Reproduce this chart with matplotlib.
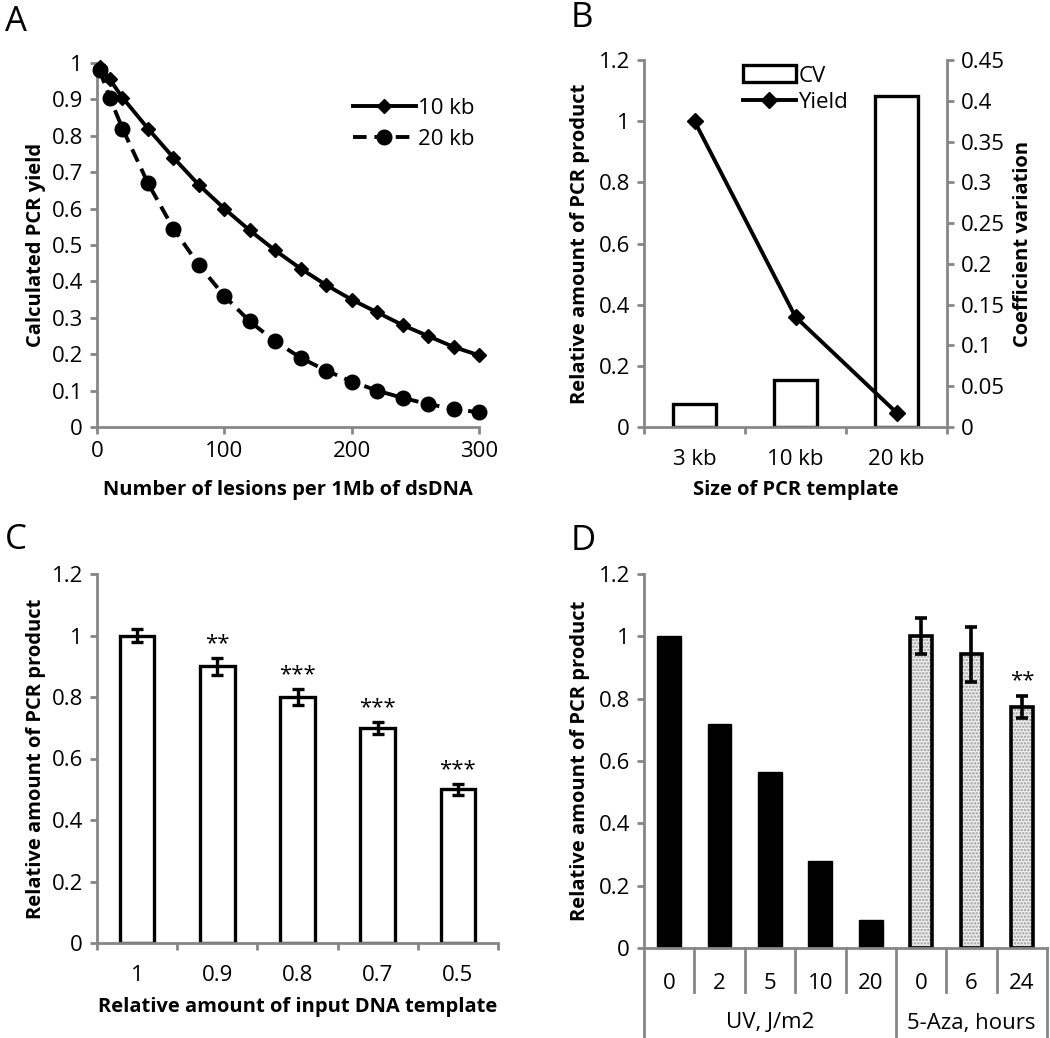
import numpy as np
import matplotlib
matplotlib.use("Agg")
from matplotlib import pyplot as plt
from matplotlib import transforms

plt.rcParams['font.family'] = ['Open Sans', 'DejaVu Sans']

# Panel A data
lesions = [2, 10, 20, 40, 60, 80, 100, 120, 140, 160, 180, 200, 220, 240, 260, 280, 300]
yield_10kb = [0.99, 0.955, 0.905, 0.82, 0.74, 0.665, 0.60, 0.54, 0.485, 0.435,
              0.39, 0.35, 0.315, 0.28, 0.25, 0.22, 0.197]
yield_20kb = [0.98, 0.905, 0.82, 0.67, 0.545, 0.445, 0.36, 0.29, 0.235, 0.19,
              0.155, 0.125, 0.10, 0.08, 0.063, 0.05, 0.04]

# Panel B data
templates = ['3 kb', '10 kb', '20 kb']
cv_values = [0.028, 0.058, 0.406]
rel_yield = [1.0, 0.36, 0.047]

# Panel C data
input_amount = ['1', '0.9', '0.8', '0.7', '0.5']
product_c = [1.0, 0.9, 0.8, 0.7, 0.5]
err_c = [0.021, 0.028, 0.025, 0.02, 0.018]
stars_c = ['', '**', '***', '***', '***']

# Panel D data
uv_doses = ['0', '2', '5', '10', '20']
uv_product = [1.0, 0.72, 0.564, 0.28, 0.089]
aza_hours = ['0', '6', '24']
aza_product = [1.0, 0.942, 0.773]
aza_err = [0.058, 0.088, 0.035]
aza_stars = ['', '', '**']
groups = ['UV, J/m2', '5-Aza, hours']

W, H = 1050, 1038
GRAY = '#868686'
TICK = 16
LAB = 14.5


def box(l, t, r, b):
    return [l / W, 1 - b / H, (r - l) / W, (b - t) / H]


def style(ax):
    for s in ['top', 'right']:
        ax.spines[s].set_visible(False)
    for s in ['left', 'bottom']:
        ax.spines[s].set_color(GRAY)
        ax.spines[s].set_linewidth(2)
    ax.tick_params(axis='both', colors=GRAY, width=2, length=5, labelsize=TICK,
                   labelcolor='black', pad=5)


fig = plt.figure(figsize=(W / 100, H / 100), dpi=100)

# ---- A ----
axA = fig.add_axes(box(97, 63, 479, 427))
style(axA)
axA.plot(lesions, yield_10kb, '-', color='black', lw=2.8, marker='D', ms=7,
         label='10 kb', clip_on=False, zorder=3)
axA.plot(lesions, yield_20kb, '--', color='black', lw=2.8, marker='o', ms=10.5,
         dashes=(3.5, 2), label='20 kb', clip_on=False, zorder=3)
axA.set_xlim(0, 300)
axA.set_ylim(0, 1)
axA.set_xticks([0, 100, 200, 300])
axA.set_yticks(np.arange(0, 1.01, 0.1))
axA.set_yticklabels(['0', '0.1', '0.2', '0.3', '0.4', '0.5', '0.6', '0.7', '0.8', '0.9', '1'])
axA.set_xlabel('Number of lesions per 1Mb of dsDNA', fontsize=LAB, fontweight='bold', labelpad=13)
axA.set_ylabel('Calculated PCR yield', fontsize=LAB, fontweight='bold', labelpad=4)
axA.legend(loc='upper right', bbox_to_anchor=(1.04, 0.96), frameon=False, fontsize=TICK,
           handlelength=2.8, handletextpad=0.1, labelspacing=0.45)

# ---- B ----
axB = fig.add_axes(box(644, 60, 947, 427))
style(axB)
axB2 = axB.twinx()
for s in ['top', 'left', 'bottom']:
    axB2.spines[s].set_visible(False)
axB2.spines['right'].set_color(GRAY)
axB2.spines['right'].set_linewidth(2)
axB2.tick_params(axis='y', colors=GRAY, width=2, length=5, labelsize=TICK,
                 labelcolor='black', pad=5)
xb = np.arange(len(templates))
axB2.bar(xb, cv_values, width=0.42, facecolor='white', edgecolor='black', lw=2.4,
         label='CV', zorder=2)
axB2.set_ylim(0, 0.45)
axB2.set_yticks(np.arange(0, 0.451, 0.05))
axB2.set_yticklabels(['0', '0.05', '0.1', '0.15', '0.2', '0.25', '0.3', '0.35', '0.4', '0.45'])
axB2.set_ylabel('Coefficient variation', fontsize=LAB, fontweight='bold', labelpad=6)
axB.set_zorder(axB2.get_zorder() + 1)
axB.patch.set_visible(False)
axB.plot(xb, rel_yield, '-', color='black', lw=2.8, marker='D', ms=8, label='Yield',
         clip_on=False)
axB.set_xlim(-0.5, 2.5)
axB2.set_xlim(-0.5, 2.5)
axB.set_ylim(0, 1.2)
axB.set_yticks(np.arange(0, 1.21, 0.2))
axB.set_yticklabels(['0', '0.2', '0.4', '0.6', '0.8', '1', '1.2'])
axB.set_xticks([-0.5, 0.5, 1.5, 2.5])
axB.set_xticklabels([])
axB.set_xticks(xb, minor=True)
axB.set_xticklabels(templates, minor=True)
axB.tick_params(axis='x', which='minor', length=0, labelsize=TICK, pad=16)
axB.set_xlabel('Size of PCR template', fontsize=LAB, fontweight='bold')
axB.xaxis.set_label_coords(0.5, -(480 - 427) / (427 - 60))
axB.set_ylabel('Relative amount of PCR product', fontsize=LAB, fontweight='bold', labelpad=6)
h1, l1 = axB2.get_legend_handles_labels()
h2, l2 = axB.get_legend_handles_labels()
axB.legend(h1 + h2, l1 + l2, loc='upper left', bbox_to_anchor=(0.26, 1.04), frameon=False,
           fontsize=TICK, handlelength=2.4, handleheight=0.8, handletextpad=0.1,
           labelspacing=0.25)

# ---- C ----
axC = fig.add_axes(box(97, 574, 498, 943))
style(axC)
xc = np.arange(len(input_amount))
axC.bar(xc, product_c, width=0.43, facecolor='white', edgecolor='black', lw=2.4)
axC.errorbar(xc, product_c, yerr=err_c, fmt='none', ecolor='black', elinewidth=2.4,
             capsize=4.5, capthick=2.4)
for x, m, e, st in zip(xc, product_c, err_c, stars_c):
    if st:
        axC.text(x, m + e + 0.012, st, ha='center', va='bottom', fontsize=16)
axC.set_xlim(-0.5, 4.5)
axC.set_ylim(0, 1.2)
axC.set_yticks(np.arange(0, 1.21, 0.2))
axC.set_yticklabels(['0', '0.2', '0.4', '0.6', '0.8', '1', '1.2'])
axC.set_xticks(np.arange(-0.5, 4.6, 1))
axC.set_xticklabels([])
axC.set_xticks(xc, minor=True)
axC.set_xticklabels(input_amount, minor=True)
axC.tick_params(axis='x', which='minor', length=0, labelsize=TICK, pad=16)
axC.set_xlabel('Relative amount of input DNA template', fontsize=LAB, fontweight='bold')
axC.xaxis.set_label_coords(0.5, -(997 - 943) / (943 - 574))
axC.set_ylabel('Relative amount of PCR product', fontsize=LAB, fontweight='bold', labelpad=4)

# ---- D ----
axD = fig.add_axes(box(644, 574, 1047, 948))
style(axD)
n_uv = len(uv_doses)
x_uv = np.arange(n_uv)
x_aza = np.arange(n_uv, n_uv + len(aza_hours))
axD.bar(x_uv, uv_product, width=0.47, color='black', edgecolor='black', lw=1)
plt.rcParams['hatch.color'] = '#9a9a9a'
plt.rcParams['hatch.linewidth'] = 1.2
axD.bar(x_aza, aza_product, width=0.43, facecolor='#f0f0f0', edgecolor='#9a9a9a',
        lw=0, hatch='.....')
axD.bar(x_aza, aza_product, width=0.43, facecolor='none', edgecolor='black', lw=2.6)
axD.errorbar(x_aza, aza_product, yerr=aza_err, fmt='none', ecolor='black',
             elinewidth=2.6, capsize=4.5, capthick=2.6)
for x, m, e, st in zip(x_aza, aza_product, aza_err, aza_stars):
    if st:
        axD.text(x, m + e + 0.015, st, ha='center', va='bottom', fontsize=16)
axD.set_xlim(-0.5, n_uv + len(aza_hours) - 0.5)
axD.set_ylim(0, 1.2)
axD.set_yticks(np.arange(0, 1.21, 0.2))
axD.set_yticklabels(['0', '0.2', '0.4', '0.6', '0.8', '1', '1.2'])
axD.set_xticks(np.concatenate([x_uv, x_aza]))
axD.set_xticklabels(uv_doses + aza_hours)
axD.tick_params(axis='x', length=0, labelsize=TICK, pad=18)
# category separators below the axis
trD = transforms.blended_transform_factory(axD.transData, axD.transAxes)
n_all = n_uv + len(aza_hours)
inner_depth = (992 - 948) / (948 - 574)
outer_depth = (1040 - 948) / (948 - 574)
for b in np.arange(-0.5, n_all, 1.0):
    depth = outer_depth if b in (-0.5, n_uv - 0.5, n_all - 0.5) else inner_depth
    axD.plot([b, b], [0, -depth], color=GRAY, lw=2, transform=trD, clip_on=False)
group_y = -(1023 - 948) / (948 - 574)
axD.text((n_uv - 1) / 2, group_y, groups[0], transform=trD, ha='center', va='center',
         fontsize=TICK)
axD.text(n_uv + (len(aza_hours) - 1) / 2, group_y, groups[1], transform=trD, ha='center',
         va='center', fontsize=TICK)
axD.set_ylabel('Relative amount of PCR product', fontsize=LAB, fontweight='bold', labelpad=6)

# panel letters
for letter, px, py in [('A', 16, 22), ('B', 582, 18), ('C', 16, 540), ('D', 583, 541)]:
    fig.text(px / W, 1 - py / H, letter, fontsize=25, ha='center', va='center')

fig.savefig('out.png', dpi=100)
